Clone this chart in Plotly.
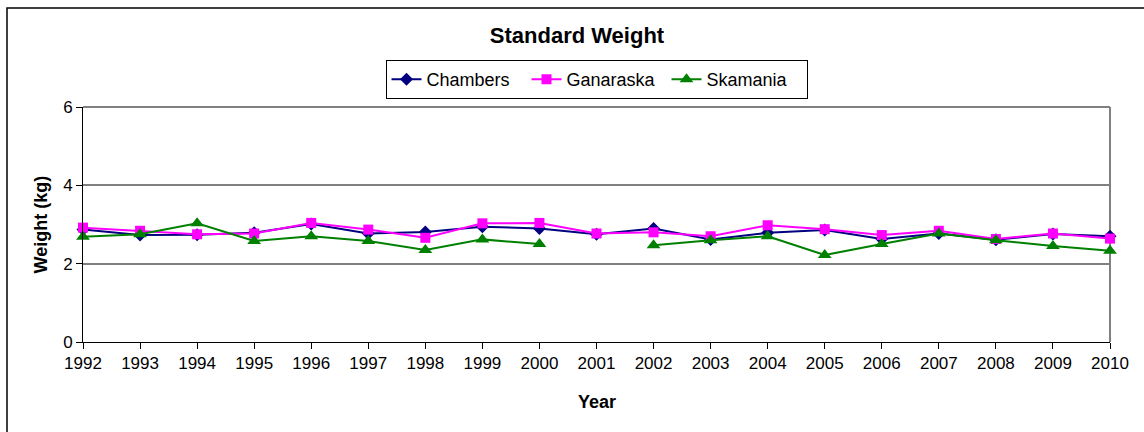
import plotly.graph_objects as go

years = list(range(1992, 2011))
chambers = [2.87, 2.73, 2.74, 2.79, 3.01, 2.77, 2.81, 2.94, 2.90, 2.75, 2.90, 2.62, 2.79, 2.86, 2.63, 2.77, 2.61, 2.76, 2.70]
ganaraska = [2.92, 2.84, 2.75, 2.77, 3.04, 2.87, 2.66, 3.03, 3.04, 2.77, 2.80, 2.70, 2.98, 2.88, 2.73, 2.84, 2.63, 2.77, 2.64]
skamania = [2.69, 2.75, 3.03, 2.58, 2.70, 2.58, 2.35, 2.62, 2.50, None, 2.47, 2.60, 2.70, 2.22, 2.50, 2.77, 2.60, 2.45, 2.33]

FONT = "Liberation Sans, Arial, sans-serif"

fig = go.Figure()
fig.add_trace(go.Scatter(x=years, y=chambers, name="Chambers", mode="lines+markers",
                         line=dict(color="#000080", width=2),
                         marker=dict(symbol="diamond", size=10, color="#000080"),
                         cliponaxis=False))
fig.add_trace(go.Scatter(x=years, y=ganaraska, name="Ganaraska", mode="lines+markers",
                         line=dict(color="#FF00FF", width=2),
                         marker=dict(symbol="square", size=10, color="#FF00FF"),
                         cliponaxis=False))
fig.add_trace(go.Scatter(x=years, y=skamania, name="Skamania", mode="lines+markers",
                         line=dict(color="#008000", width=2),
                         marker=dict(symbol="triangle-up", size=12, color="#008000"),
                         connectgaps=False, cliponaxis=False))

L, R, T, B = 83, 1110, 107, 342
W, H = 1144, 432
pw, ph = R - L, B - T

fig.update_layout(
    width=W, height=H,
    margin=dict(l=L, r=W - R, t=T, b=H - B),
    paper_bgcolor="white", plot_bgcolor="white",
    font=dict(family=FONT, color="black", size=17),
    title=dict(text="<b>Standard Weight</b>", x=577 / W, xanchor="center",
               xref="container",
               y=1 - 35 / H, yanchor="middle", yref="container",
               font=dict(size=22, family=FONT, color="black")),
    showlegend=True,
    legend=dict(orientation="h", x=0.5, xanchor="center",
                y=1 + (T - 60) / ph, yanchor="top",
                bordercolor="black", borderwidth=1, bgcolor="white",
                entrywidth=95, entrywidthmode="pixels",
                font=dict(size=18, family=FONT, color="black"),
                itemclick=False),
    xaxis=dict(range=[1992, 2010], tickmode="array", tickvals=years,
               ticktext=[str(y) for y in years],
               showline=True, linecolor="black", linewidth=1,
               ticks="outside", ticklen=6, tickcolor="black",
               showgrid=False, zeroline=False,
               tickfont=dict(size=17, family=FONT, color="black")),
    yaxis=dict(range=[0, 6], tickvals=[0, 2, 4, 6],
               showline=True, linecolor="black", linewidth=1,
               ticks="outside", ticklen=6, tickcolor="black",
               showgrid=True, gridcolor="#808080", gridwidth=1.5,
               zeroline=False,
               tickfont=dict(size=17, family=FONT, color="black")),
    annotations=[
        dict(text="<b>Weight (kg)</b>", xref="paper", yref="paper",
             x=(40 - L) / pw, y=0.5, xanchor="center", yanchor="middle",
             textangle=-90, showarrow=False,
             font=dict(size=18, family=FONT, color="black")),
        dict(text="<b>Year</b>", xref="paper", yref="paper",
             x=0.5, y=(B - 402) / ph, xanchor="center", yanchor="middle",
             showarrow=False,
             font=dict(size=18, family=FONT, color="black")),
    ],
    shapes=[
        dict(type="line", xref="paper", yref="paper", x0=0, x1=1, y0=1, y1=1,
             line=dict(color="#808080", width=2), layer="below"),
        dict(type="line", xref="paper", yref="paper", x0=1, x1=1, y0=0, y1=1,
             line=dict(color="#808080", width=2), layer="below"),
        dict(type="rect", xref="paper", yref="paper",
             x0=(7 - L) / pw, x1=1.2, y0=1 + (T - 8) / ph, y1=-0.6,
             line=dict(color="black", width=1.5), fillcolor="rgba(0,0,0,0)"),
    ],
)

fig.write_html("out.html", config={"displayModeBar": False},
               post_script="document.body.style.margin='0';document.body.style.overflow='hidden';")
